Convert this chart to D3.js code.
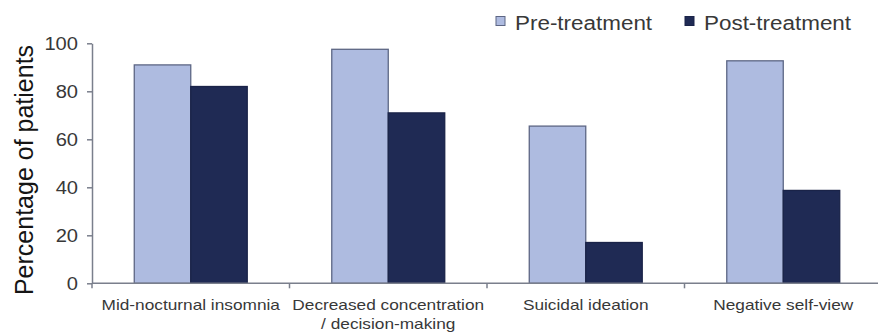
<!DOCTYPE html>
<html>
<head>
<meta charset="utf-8">
<script src="https://cdn.jsdelivr.net/npm/d3@7"></script>
<style>
  html, body { margin: 0; padding: 0; background: #fff; }
  svg { display: block; font-family: "Liberation Sans", Arial, sans-serif; }
</style>
</head>
<body>
<svg id="chart" width="880" height="335"></svg>
<script>
// Symptom categories (second category wraps onto two lines)
const categories = [
  ["Mid-nocturnal insomnia"],
  ["Decreased concentration", "/ decision-making"],
  ["Suicidal ideation"],
  ["Negative self-view"]
];
const seriesNames = ["Pre-treatment", "Post-treatment"];
const preTreatment = [91, 97.5, 65.5, 92.7];
const postTreatment = [82, 71, 17, 38.7];
const yTicks = [0, 20, 40, 60, 80, 100];

const colors = { "Pre-treatment": "#aebbe0", "Post-treatment": "#1f2a54" };
const barStroke = "#5d6684";
const axisColor = "#7a7f8c";
const textColor = "#383838";
const stretch = 1.15; // glyphs are drawn slightly wide

const svg = d3.select("#chart");

const rows = categories.map((c, i) => ({
  key: c.join(" "),
  lines: c,
  values: [
    { series: seriesNames[0], value: preTreatment[i] },
    { series: seriesNames[1], value: postTreatment[i] }
  ]
}));

const x0 = d3.scaleBand()
  .domain(rows.map(r => r.key))
  .range([92, 882])
  .padding(0);
const bw = x0.bandwidth();
const x1 = d3.scaleBand()
  .domain(seriesNames)
  .range([bw * 0.214, bw * 0.786])
  .padding(0);

const y = d3.scaleLinear().domain([0, 100]).range([283.3, 43.3]);

// bars
const groups = svg.append("g").selectAll("g")
  .data(rows).join("g")
  .attr("transform", d => `translate(${x0(d.key)},0)`);
groups.selectAll("rect")
  .data(d => d.values).join("rect")
  .attr("x", d => x1(d.series))
  .attr("y", d => y(d.value))
  .attr("width", x1.bandwidth())
  .attr("height", d => y(0) - y(d.value))
  .attr("fill", d => colors[d.series])
  .attr("stroke", d => d.series === seriesNames[0] ? barStroke : "#1a2348")
  .attr("stroke-width", 1.3);

// y axis
const yAxis = svg.append("g")
  .attr("transform", "translate(92,0)")
  .call(d3.axisLeft(y).tickValues(yTicks).tickSize(5).tickPadding(9).tickSizeOuter(0));
yAxis.select(".domain").attr("stroke", axisColor).attr("stroke-width", 1.5);
yAxis.selectAll(".tick line").attr("stroke", axisColor).attr("stroke-width", 1.5);
yAxis.selectAll(".tick text")
  .attr("fill", textColor)
  .style("font-size", "17.5px")
  .attr("dy", "0.36em");

// x axis line with ticks at category boundaries
const xAxis = svg.append("g")
  .attr("transform", `translate(0,${y(0)})`)
  .call(d3.axisBottom(x0).tickSize(0).tickFormat(""));
xAxis.select(".domain").attr("stroke", axisColor).attr("stroke-width", 1.5)
  .attr("d", `M92,0H878`);
xAxis.selectAll(".tick").remove();
const boundaries = rows.map(r => x0(r.key));
xAxis.selectAll("line.boundary")
  .data(boundaries).join("line")
  .attr("class", "boundary")
  .attr("x1", d => d).attr("x2", d => d)
  .attr("y1", 0).attr("y2", 5)
  .attr("stroke", axisColor).attr("stroke-width", 1.5);

// category labels
const labels = svg.append("g").selectAll("text")
  .data(rows).join("text")
  .attr("text-anchor", "middle")
  .attr("fill", textColor)
  .style("font-size", "15px")
  .attr("x", d => x0(d.key) + bw / 2)
  .attr("y", 310);
labels.selectAll("tspan")
  .data(d => d.lines.map(l => ({ l, cx: x0(d.key) + bw / 2 })))
  .join("tspan")
  .attr("x", d => d.cx)
  .attr("dy", (d, i) => i === 0 ? 0 : 19)
  .text(d => d.l);

// y axis title
svg.append("text")
  .attr("transform", "translate(33,170) rotate(-90)")
  .attr("text-anchor", "middle")
  .attr("fill", "#151515")
  .style("font-size", "25px")
  .text("Percentage of patients");

// legend
const legendX = [496, 685];
const legend = svg.append("g").selectAll("g")
  .data(seriesNames).join("g")
  .attr("transform", (d, i) => `translate(${legendX[i]},16.5)`);
legend.append("rect")
  .attr("width", 9).attr("height", 9)
  .attr("fill", d => colors[d])
  .attr("stroke", d => d === seriesNames[0] ? barStroke : "#1a2348")
  .attr("stroke-width", 1);
legend.append("text")
  .attr("class", "legend-label")
  .attr("x", 19).attr("y", 13.5)
  .attr("fill", textColor)
  .style("font-size", "19.5px")
  .text(d => d);

// widen horizontal text a little
svg.selectAll("text").each(function () {
  const t = d3.select(this);
  if (t.attr("transform") && t.attr("transform").includes("rotate")) return;
  if (this.querySelectorAll("tspan").length) {
    d3.select(this).selectAll("tspan").each(function () {
      const w = this.getComputedTextLength();
      d3.select(this).attr("textLength", w * stretch).attr("lengthAdjust", "spacingAndGlyphs");
    });
  } else {
    const w = this.getComputedTextLength();
    t.attr("textLength", w * stretch).attr("lengthAdjust", "spacingAndGlyphs");
  }
});
</script>
</body>
</html>
